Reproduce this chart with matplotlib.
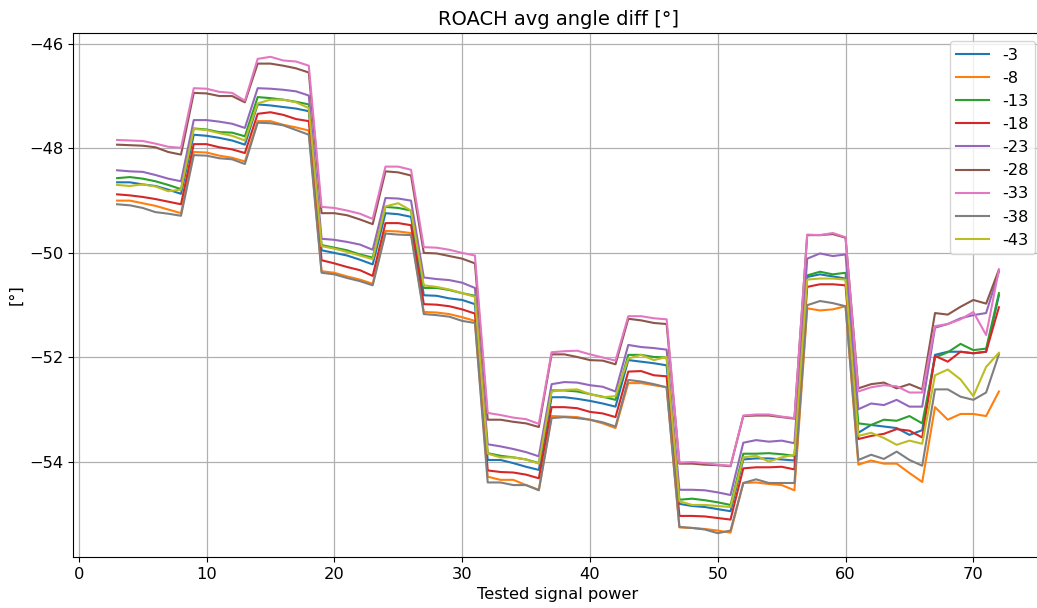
import numpy as np
import matplotlib
matplotlib.use("Agg")
import matplotlib.pyplot as plt

# Tested signal power steps
x = list(range(3, 73))

labels = ["-3", "-8", "-13", "-18", "-23", "-28", "-33", "-38", "-43"]

s_m3 = [-48.65, -48.65, -48.69, -48.72, -48.79, -48.87,
        -47.74, -47.76, -47.80, -47.85, -47.93,
        -47.16, -47.18, -47.21, -47.24, -47.29,
        -49.95, -50.00, -50.05, -50.13, -50.22,
        -49.24, -49.26, -49.31,
        -50.81, -50.82, -50.87, -50.90, -50.98,
        -53.96, -53.96, -54.02, -54.09, -54.15,
        -52.76, -52.76, -52.79, -52.83, -52.88, -52.94,
        -52.05, -52.08, -52.11, -52.15,
        -54.80, -54.84, -54.86, -54.90, -54.94,
        -53.95, -53.93, -53.93, -53.95, -53.97,
        -50.46, -50.41, -50.45, -50.49,
        -53.44, -53.29, -53.32, -53.35, -53.48, -53.39,
        -51.95, -51.89, -51.89, -51.92, -51.89, -50.81]

s_m8 = [-49.00, -49.00, -49.05, -49.10, -49.17, -49.24,
        -48.07, -48.08, -48.14, -48.18, -48.25,
        -47.48, -47.48, -47.55, -47.60, -47.66,
        -50.35, -50.38, -50.45, -50.51, -50.59,
        -49.58, -49.59, -49.62,
        -51.13, -51.14, -51.17, -51.23, -51.30,
        -54.28, -54.34, -54.34, -54.44, -54.53,
        -53.12, -53.13, -53.14, -53.19, -53.26, -53.35,
        -52.49, -52.49, -52.53, -52.57,
        -55.25, -55.26, -55.28, -55.31, -55.35,
        -54.40, -54.39, -54.42, -54.44, -54.54,
        -51.06, -51.10, -51.08, -51.02,
        -54.05, -53.97, -54.03, -54.03, -54.21, -54.38,
        -52.95, -53.19, -53.08, -53.08, -53.12, -52.65]

s_m13 = [-48.57, -48.55, -48.58, -48.63, -48.70, -48.78,
         -47.62, -47.64, -47.69, -47.70, -47.77,
         -47.02, -47.04, -47.07, -47.11, -47.16,
         -49.85, -49.90, -49.95, -50.03, -50.09,
         -49.12, -49.14, -49.19,
         -50.67, -50.67, -50.71, -50.77, -50.82,
         -53.83, -53.88, -53.91, -53.95, -54.02,
         -52.63, -52.63, -52.65, -52.70, -52.75, -52.81,
         -51.95, -51.95, -51.99, -52.00,
         -54.72, -54.70, -54.73, -54.77, -54.82,
         -53.84, -53.84, -53.83, -53.85, -53.88,
         -50.43, -50.36, -50.41, -50.38,
         -53.26, -53.29, -53.19, -53.21, -53.12, -53.26,
         -52.00, -51.90, -51.74, -51.86, -51.83, -50.77]

s_m18 = [-48.88, -48.90, -48.93, -48.97, -49.02, -49.07,
         -47.92, -47.92, -47.98, -48.02, -48.09,
         -47.34, -47.31, -47.36, -47.44, -47.48,
         -50.14, -50.20, -50.27, -50.33, -50.44,
         -49.43, -49.43, -49.47,
         -50.98, -50.99, -51.02, -51.08, -51.16,
         -54.16, -54.19, -54.20, -54.24, -54.31,
         -52.95, -52.95, -52.97, -53.04, -53.07, -53.14,
         -52.27, -52.26, -52.34, -52.36,
         -55.03, -55.03, -55.04, -55.07, -55.10,
         -54.12, -54.10, -54.10, -54.09, -54.14,
         -50.65, -50.60, -50.60, -50.62,
         -53.56, -53.50, -53.46, -53.37, -53.40, -53.53,
         -51.97, -52.08, -51.89, -51.92, -51.89, -51.04]

s_m23 = [-48.42, -48.44, -48.45, -48.51, -48.58, -48.63,
         -47.46, -47.46, -47.49, -47.53, -47.61,
         -46.85, -46.86, -46.88, -46.91, -46.99,
         -49.73, -49.75, -49.79, -49.84, -49.94,
         -48.95, -48.96, -49.00,
         -50.47, -50.50, -50.52, -50.57, -50.67,
         -53.66, -53.70, -53.75, -53.81, -53.89,
         -52.51, -52.47, -52.48, -52.53, -52.56, -52.65,
         -51.76, -51.80, -51.82, -51.85,
         -54.53, -54.53, -54.54, -54.58, -54.63,
         -53.63, -53.58, -53.61, -53.59, -53.64,
         -50.11, -50.01, -50.06, -50.03,
         -52.99, -52.88, -52.91, -52.81, -52.94, -52.94,
         -51.43, -51.36, -51.25, -51.19, -51.15, -50.36]

s_m28 = [-47.93, -47.94, -47.95, -47.98, -48.07, -48.12,
         -46.94, -46.95, -47.00, -47.00, -47.12,
         -46.38, -46.38, -46.42, -46.47, -46.55,
         -49.24, -49.24, -49.28, -49.36, -49.45,
         -48.44, -48.46, -48.52,
         -50.00, -50.01, -50.06, -50.11, -50.20,
         -53.19, -53.19, -53.23, -53.26, -53.33,
         -51.94, -51.94, -51.99, -52.05, -52.06, -52.13,
         -51.26, -51.29, -51.34, -51.36,
         -54.03, -54.03, -54.05, -54.06, -54.08,
         -53.12, -53.11, -53.11, -53.14, -53.17,
         -49.66, -49.66, -49.64, -49.71,
         -52.59, -52.51, -52.48, -52.59, -52.51, -52.61,
         -51.15, -51.18, -51.03, -50.90, -50.97, -50.32]

s_m33 = [-47.84, -47.85, -47.86, -47.91, -47.97, -47.99,
         -46.85, -46.86, -46.92, -46.94, -47.09,
         -46.29, -46.25, -46.32, -46.34, -46.42,
         -49.12, -49.14, -49.19, -49.25, -49.35,
         -48.35, -48.35, -48.41,
         -49.89, -49.90, -49.94, -50.00, -50.05,
         -53.06, -53.10, -53.15, -53.18, -53.27,
         -51.90, -51.88, -51.87, -51.94, -52.00, -52.06,
         -51.21, -51.21, -51.25, -51.27,
         -54.01, -54.00, -54.02, -54.05, -54.07,
         -53.11, -53.09, -53.09, -53.13, -53.16,
         -49.65, -49.66, -49.62, -49.70,
         -52.65, -52.57, -52.53, -52.55, -52.67, -52.67,
         -51.40, -51.36, -51.27, -51.13, -51.57, -50.32]

s_m38 = [-49.07, -49.09, -49.14, -49.22, -49.25, -49.29,
         -48.13, -48.14, -48.19, -48.21, -48.30,
         -47.51, -47.52, -47.56, -47.65, -47.74,
         -50.38, -50.41, -50.48, -50.54, -50.62,
         -49.63, -49.65, -49.66,
         -51.17, -51.19, -51.22, -51.30, -51.34,
         -54.39, -54.39, -54.44, -54.44, -54.54,
         -53.16, -53.14, -53.16, -53.19, -53.24, -53.32,
         -52.43, -52.46, -52.51, -52.57,
         -55.24, -55.26, -55.29, -55.36, -55.31,
         -54.40, -54.33, -54.40, -54.40, -54.40,
         -51.00, -50.92, -50.96, -51.02,
         -53.96, -53.86, -53.94, -53.80, -53.96, -54.07,
         -52.61, -52.61, -52.75, -52.81, -52.67, -51.94]

s_m43 = [-48.70, -48.72, -48.69, -48.73, -48.82, -48.79,
         -47.63, -47.65, -47.71, -47.76, -47.85,
         -47.14, -47.07, -47.07, -47.12, -47.23,
         -49.87, -49.92, -49.98, -50.05, -50.12,
         -49.11, -49.05, -49.19,
         -50.62, -50.65, -50.70, -50.77, -50.84,
         -53.84, -53.91, -53.91, -53.95, -54.03,
         -52.65, -52.62, -52.61, -52.70, -52.76, -52.74,
         -52.02, -51.95, -52.05, -51.99,
         -54.75, -54.82, -54.82, -54.84, -54.86,
         -53.91, -53.88, -53.99, -53.91, -53.86,
         -50.51, -50.49, -50.49, -50.51,
         -53.50, -53.44, -53.54, -53.67, -53.59, -53.65,
         -52.34, -52.23, -52.42, -52.74, -52.18, -51.91]

series = [s_m3, s_m8, s_m13, s_m18, s_m23, s_m28, s_m33, s_m38, s_m43]

fs = 11.7
fig = plt.figure(figsize=(10.37, 6.08), dpi=100)
# axes extends slightly past the right edge of the canvas
ax = fig.add_axes([73 / 1037, 51 / 608, (1043 - 73) / 1037, (557 - 33) / 608])

for lab, ys in zip(labels, series):
    ax.plot(x, ys, label=lab, linewidth=1.5)

ax.grid(True, color="#b0b0b0", linewidth=0.9)
ax.set_xticks([0, 10, 20, 30, 40, 50, 60, 70])
ax.set_yticks([-46, -48, -50, -52, -54])
ax.tick_params(labelsize=fs)
ax.set_xlabel("Tested signal power", fontsize=fs)
ax.set_ylabel("[°]", fontsize=fs)
ax.set_title("ROACH avg angle diff [°]", fontsize=fs * 1.2)
ax.legend(loc="upper right", fontsize=fs)

fig.savefig("out.png", dpi=100)
